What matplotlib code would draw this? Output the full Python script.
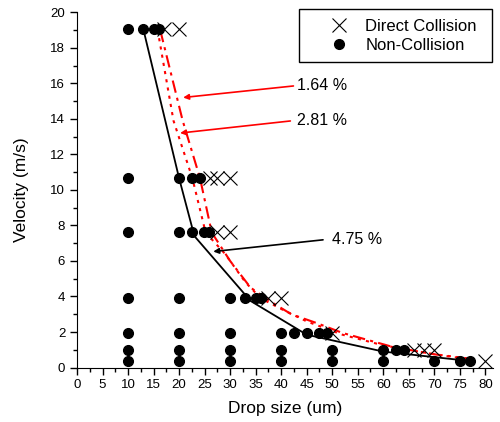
import matplotlib
matplotlib.use("Agg")
import matplotlib.pyplot as plt
from matplotlib.ticker import MultipleLocator
from matplotlib.patches import Rectangle

plt.rcParams['font.family'] = ['Liberation Sans', 'DejaVu Sans']

# velocity levels (m/s) and drop sizes (um) at each level
velocity_levels = [19.04, 10.66, 7.62, 3.9, 1.97, 0.98, 0.36]
non_collision_sizes = [
    [10, 13, 15, 16],
    [10, 20, 22.5, 24],
    [10, 20, 22.5, 24.8, 25.8],
    [10, 20, 30, 33, 35, 36],
    [10, 20, 30, 40, 42.5, 45, 47.5, 49],
    [10, 20, 30, 40, 50, 60, 62.5, 64],
    [10, 20, 30, 40, 50, 60, 70, 75, 77],
]
collision_sizes = [
    [17, 20],
    [26, 27.5, 30],
    [27.5, 30],
    [37.5, 40],
    [50],
    [66, 68, 70],
    [80],
]

# boundary curves
black_x = [13, 20, 23, 34, 45, 60, 75]
black_y = [19.04, 10.66, 7.4, 3.75, 1.85, 0.9, 0.43]
red_dot_x = [15.8, 18.9, 22.6, 25.2, 29, 33, 36, 40, 45, 52, 60, 64, 70, 77]
red_dot_y = [19.0, 13.9, 10.66, 7.6, 6.4, 4.8, 3.9, 3.3, 2.6, 1.85, 1.25, 1.05, 0.75, 0.5]
red_dash_x = [16.3, 20.7, 24.1, 26.4, 30, 34, 38, 42, 47, 52, 57, 62, 70, 77]
red_dash_y = [19.0, 13.9, 10.66, 7.6, 6.0, 4.5, 3.7, 3.0, 2.5, 1.95, 1.55, 1.15, 0.75, 0.45]

# annotations: label, text pos, arrow tail, arrow head, colour
notes = [
    ('1.64 %', (43.1, 15.87), (42.4, 15.85), (20.8, 15.2), 'red'),
    ('2.81 %', (43.1, 13.88), (41.8, 13.88), (20.2, 13.2), 'red'),
    ('4.75 %', (49.9, 7.22), (48.2, 7.19), (26.7, 6.53), 'black'),
]

nc_x, nc_y, c_x, c_y = [], [], [], []
for v, sizes in zip(velocity_levels, non_collision_sizes):
    nc_x += sizes
    nc_y += [v] * len(sizes)
for v, sizes in zip(velocity_levels, collision_sizes):
    c_x += sizes
    c_y += [v] * len(sizes)

W, H = 500, 422
fig = plt.figure(figsize=(W / 100, H / 100), dpi=100)
ax = fig.add_axes([0.154, 0.129, 0.832, 0.842])

ax.plot(red_dot_x, red_dot_y, color='red', lw=1.5, linestyle=(0, (1.5, 2.5)), zorder=2)
ax.plot(red_dash_x, red_dash_y, color='red', lw=1.5, linestyle=(0, (6, 2.5, 1.5, 2.5)), zorder=2)
ax.plot(black_x, black_y, color='black', lw=1.3, zorder=2)

ax.plot(c_x, c_y, linestyle='none', marker='x', ms=9.5, mew=0.8, color='black',
        label='Direct Collision', zorder=3)
ax.plot(nc_x, nc_y, linestyle='none', marker='o', ms=7, color='black',
        label='Non-Collision', zorder=3)

for label, tpos, tail, head, col in notes:
    ax.annotate('', xy=head, xytext=tail,
                arrowprops=dict(arrowstyle='-|>', color=col, lw=1.2, mutation_scale=8,
                                shrinkA=0, shrinkB=0))
    ax.text(tpos[0], tpos[1], label, fontsize=11.5, ha='left', va='center')

ax.set_xlim(0, 81.5)
ax.set_ylim(0, 20)
ax.xaxis.set_major_locator(MultipleLocator(5))
ax.xaxis.set_minor_locator(MultipleLocator(2.5))
ax.yaxis.set_major_locator(MultipleLocator(2))
ax.yaxis.set_minor_locator(MultipleLocator(1))
ax.tick_params(which='major', direction='out', length=5, width=1, labelsize=9.5)
ax.tick_params(which='minor', direction='out', length=3, width=1)
for side in ('top', 'right'):
    ax.spines[side].set_visible(False)

ax.set_xlabel('Drop size (um)', fontsize=12.5, labelpad=7)
ax.set_ylabel('Velocity (m/s)', fontsize=12.5, labelpad=15)

# legend entries without frame, then a plain box around them
leg = fig.legend(loc='upper left', bbox_to_anchor=(326 / W, 1 - 19 / H),
                 fontsize=12, frameon=False, borderpad=0, borderaxespad=0,
                 handlelength=1.5, handletextpad=0.85, labelspacing=0.22)
fig.add_artist(Rectangle((299 / W, 1 - 62 / H), 193 / W, 53 / H,
                         transform=fig.transFigure, fill=False,
                         edgecolor='black', lw=1.0))

fig.savefig('out.png', dpi=100)
